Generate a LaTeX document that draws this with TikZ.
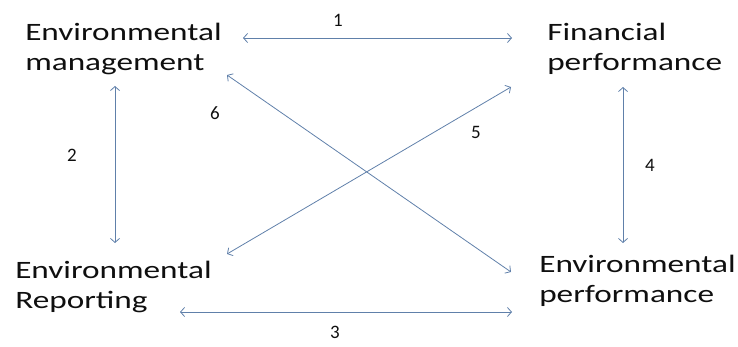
\documentclass[tikz,border=0pt]{standalone}
\usepackage{fontspec}
\setmainfont{Carlito}
\usetikzlibrary{arrows.meta}
\definecolor{arrowblue}{RGB}{96,128,170}
\definecolor{labeltext}{RGB}{15,15,15}
\tikzset{
  label box/.style={anchor=base west, inner sep=0pt, align=left, text=labeltext,
    font=\fontsize{25}{30}\selectfont, xscale=1.33, transform shape},
  num/.style={inner sep=0pt, text=labeltext, font=\fontsize{19}{22}\selectfont},
  link/.style={draw=arrowblue, line width=0.8pt,
    {Straight Barb[length=4pt,width=9pt]}-{Straight Barb[length=4pt,width=9pt]}}
}
\begin{document}
\begin{tikzpicture}[x=1pt,y=-1pt]
\useasboundingbox (0,0) rectangle (738,347);
% text nodes (anchored at the baseline of their last line)
\node[label box] (em) at (25,71) {Environmental\\management};
\node[label box] (fp) at (547,71) {Financial\\performance};
\node[label box] (er) at (15,308) {Environmental\\Reporting};
\node[label box] (ep) at (539,302) {Environmental\\performance};
% arrow end points
\coordinate (emR) at (243,38);
\coordinate (fpL) at (512,38);
\coordinate (emB) at (115,86);
\coordinate (erT) at (115,243);
\coordinate (fpB) at (623,87);
\coordinate (epT) at (623,243);
\coordinate (erR) at (180,312);
\coordinate (epL) at (512,312);
\coordinate (erD) at (227,254);
\coordinate (fpD) at (511,87);
\coordinate (emD) at (227,75);
\coordinate (epD) at (511,272);
% connectors
\draw[link] (emR) -- (fpL);
\draw[link] (emB) -- (erT);
\draw[link] (fpB) -- (epT);
\draw[link] (erR) -- (epL);
\draw[link] (erD) -- (fpD);
\draw[link] (emD) -- (epD);
% numbers
\node[num] (n1) at (338,20) {1};
\node[num] (n2) at (72,155) {2};
\node[num] (n3) at (335,332) {3};
\node[num] (n4) at (650,165) {4};
\node[num] (n5) at (476,132) {5};
\node[num] (n6) at (215,113) {6};
\end{tikzpicture}
\end{document}
